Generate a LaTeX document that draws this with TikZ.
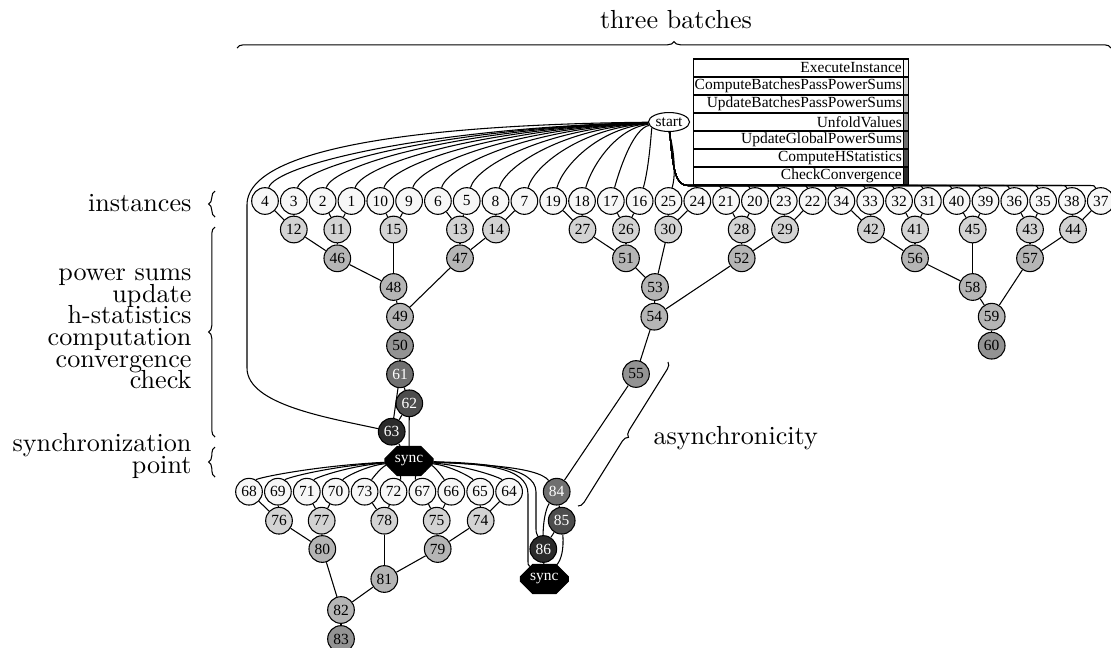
\documentclass[tikz,border=0pt]{standalone}
\usepackage{fontspec}
\newfontfamily\gvfont{Liberation Serif}
\usetikzlibrary{shapes.geometric,shapes.misc,decorations.pathreplacing}
\definecolor{execc}{HTML}{F7F7F7}
\definecolor{cbppsc}{HTML}{D3D3D3}
\definecolor{ubppsc}{HTML}{B5B5B5}
\definecolor{unfoldc}{HTML}{939393}
\definecolor{ugpsc}{HTML}{6F6F6F}
\definecolor{chsc}{HTML}{4D4D4D}
\definecolor{convc}{HTML}{2B2B2B}
\newcommand\tightlines{\fontsize{9.8}{8.1}\selectfont\lineskiplimit -5pt\relax}

\begin{document}
\begin{tikzpicture}[x=0.375pt, y=-0.375pt,
  gv/.style={font=\gvfont\fontsize{5.8}{6.5}\selectfont, inner sep=0pt},
  task/.style={gv, circle, draw, minimum size=10pt},
  inst/.style={task, fill=execc},
  cbpps/.style={task, fill=cbppsc},
  ubpps/.style={task, fill=ubppsc},
  unfold/.style={task, fill=unfoldc},
  ugps/.style={task, fill=ugpsc, text=white},
  chs/.style={task, fill=chsc, text=white},
  conv/.style={task, fill=convc, text=white},
  syncbox/.style={gv, chamfered rectangle, chamfered rectangle xsep=3pt,
    chamfered rectangle ysep=2.6pt, draw, fill=black, text=white,
    minimum width=18pt, minimum height=10.9pt},
  legrow/.style={gv, draw, fill=white, text width=77.7pt, align=right,
    inner xsep=0.5pt, minimum height=6.75pt},
  legkey/.style={draw, minimum width=2pt, minimum height=6.75pt, inner sep=0pt},
  sidetext/.style={font=\tightlines, align=right, anchor=east, inner sep=0pt},
  bracec/.style={decorate, decoration={brace, amplitude=2.4pt}}]
  \useasboundingbox (0,0) rectangle (1111,647);

  % tasks
  \node[gv, ellipse, draw, minimum width=15.4pt, minimum height=7.1pt] (start) at (669,122) {start};
  \foreach \n [count=\k from 0] in {4,3,2,1,10,9,6,5,8,7,19,18,17,16,25,24,21,20,23,22,34,33,32,31,40,39,36,35,38,37}
    \node[inst] (n\n) at ({265+28.82*\k},201) {\n};
  \foreach \n/\x in {12/293.8,11/337.3,15/393.5,13/460,14/496,27/582.5,26/626,30/668.3,28/741.7,29/785,42/871,41/915,45/972.7,43/1030,44/1073}
    \node[cbpps] (n\n) at (\x,229.5) {\n};
  \foreach \n/\x in {46/337.3,47/460,51/626,52/741.7,56/915,57/1030}
    \node[ubpps] (n\n) at (\x,258.3) {\n};
  \foreach \n/\x/\y in {48/393.5/287,53/655/287,58/972.7/287,49/400/316.7,54/654.3/316.7,59/991.7/316.7,80/322.3/549,79/437.7/549,81/384.3/579,82/341/610}
    \node[ubpps] (n\n) at (\x,\y) {\n};
  \foreach \n/\x/\y in {50/400/345.7,60/991.7/345.7,55/636/374,83/341/639}
    \node[unfold] (n\n) at (\x,\y) {\n};
  \node[ugps] (n61) at (400,374.3) {61};
  \node[chs] (n62) at (409.3,403.3) {62};
  \node[conv] (n63) at (391.7,431.7) {63};
  \node[syncbox] (sync1) at (409,461) {sync};
  \foreach \n [count=\k from 0] in {68,69,71,70,73,72,67,66,65,64}
    \node[inst] (n\n) at ({249+28.9*\k},491.7) {\n};
  \foreach \n/\x in {76/279,77/321.7,78/384.3,75/436.7,74/480.7}
    \node[cbpps] (n\n) at (\x,520.7) {\n};
  \node[ugps] (n84) at (556.7,491.7) {84};
  \node[chs] (n85) at (561.7,520.7) {85};
  \node[conv] (n86) at (543.3,549) {86};
  \node[syncbox] (sync2) at (544.3,579) {sync};

  % dependencies
  \foreach \a/\b in {4/12,3/12,2/11,1/11,10/15,9/15,6/13,5/13,8/14,7/14,12/46,11/46,13/47,14/47,
      46/48,15/48,48/49,47/49,49/50,50/61,61/62,61/63,62/63,
      19/27,18/27,17/26,16/26,25/30,24/30,21/28,20/28,23/29,22/29,27/51,26/51,51/53,30/53,
      28/52,29/52,53/54,52/54,54/55,55/84,
      34/42,33/42,32/41,31/41,40/45,39/45,36/43,35/43,38/44,37/44,42/56,41/56,43/57,44/57,
      56/58,45/58,58/59,57/59,59/60,
      68/76,69/76,71/77,70/77,73/78,72/78,67/75,66/75,65/74,64/74,76/80,77/80,75/79,74/79,
      78/81,79/81,80/82,81/82,82/83,84/85,85/86}
    \draw (n\a) -- (n\b);
  \draw (n62) -- (sync1);
  \draw (n63) -- (sync1);
  \draw (n86) -- (sync2);

  \foreach \n [count=\k from 0] in {4,3,2,1,10,9,6,5,8,7,19,18,17,16,25} {
    \pgfmathsetmacro\cx{669-0.6*(669-(265+28.82*\k))}
    \pgfmathsetmacro\dx{265+28.82*\k+10}
    \draw (start) .. controls (\cx,128) and (\dx,165) .. (n\n);
  }
  \foreach \n [count=\k from 15] in {24,21,20,23,22,34,33,32,31,40,39,36,35,38,37} {
    \pgfmathsetmacro\hx{max(265+28.82*\k-14,688)}
    \draw (start) .. controls (673,172) and (676,185.5) .. (688,185.5) -- (\hx,185.5)
      .. controls (\hx+8,185.5) .. (n\n);
  }
  \draw (start) .. controls (470,124) and (247,140) .. (247,205) -- (247,368)
    .. controls (247,405) and (330,418) .. (n63);

  \foreach \n [count=\k from 0] in {68,69,71,70,73,72} {
    \pgfmathsetmacro\bx{249+28.9*\k}
    \pgfmathsetmacro\cx{409-0.6*(409-\bx)}
    \draw (sync1) .. controls (\cx,466) and (\bx+8,478) .. (n\n);
  }
  \foreach \n [count=\k from 6] in {67,66,65,64} {
    \pgfmathsetmacro\bx{249+28.9*\k}
    \pgfmathsetmacro\cx{409+0.6*(\bx-409)}
    \draw (sync1) .. controls (\cx,466) and (\bx-8,478) .. (n\n);
  }
  \draw (sync1) .. controls (470,464) and (538,466) .. (n84);
  \draw (sync1) .. controls (480,463) and (536,466) .. (536,492) -- (536,526)
    .. controls (536,532) .. (n86);
  \draw (sync1) .. controls (480,464) and (528,466) .. (528,494) -- (528,558)
    .. controls (528,565) .. (sync2);
  \draw (n84) .. controls (545,510) and (543,525) .. (n86);
  \draw (n85) .. controls (564,550) and (561,560) .. (sync2);

  % legend
  \foreach \i/\lab/\col in {1/ExecuteInstance/execc,2/ComputeBatchesPassPowerSums/cbppsc,
      3/UpdateBatchesPassPowerSums/ubppsc,4/UnfoldValues/unfoldc,5/UpdateGlobalPowerSums/ugpsc,
      6/ComputeHStatistics/chsc,7/CheckConvergence/convc} {
    \node[legrow] (leg\i) at (798.2,{50+18*\i}) {\lab};
    \node[legkey, fill=\col] (key\i) at (906,{50+18*\i}) {};
  }

  % phases
  \draw[bracec] (237,48) -- (1111,48);
  \node[font=\fontsize{9.8}{11}\selectfont] (lbltop) at (676,20) {three batches};
  \draw[bracec] (215,217) -- (215,191);
  \node[sidetext] (lblinst) at (192,203) {instances};
  \draw[bracec] (215,437) -- (215,227);
  \node[sidetext] (lblsteps) at (192,329) {power sums\\update\\h-statistics\\computation\\convergence\\check};
  \draw[bracec] (215,477) -- (215,447);
  \node[sidetext] (lblsync) at (192,456) {synchronization\\point};
  \draw[bracec] (668,362) -- (578,506);
  \node[font=\fontsize{9.8}{11}\selectfont, anchor=west, inner sep=0pt] (lblasync) at (653,438) {asynchronicity};
\end{tikzpicture}
\end{document}
